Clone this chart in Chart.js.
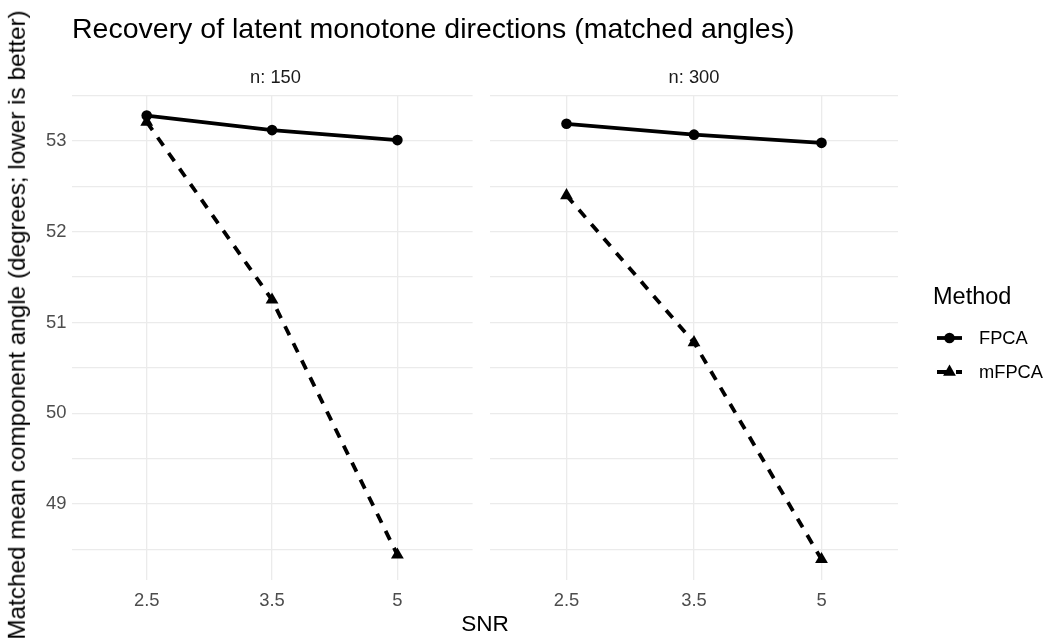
<!DOCTYPE html>
<html>
<head>
<meta charset="utf-8">
<script src="https://cdn.jsdelivr.net/npm/chart.js@4"></script>
<style>
  body { margin: 0; background: #fff; }
  .wrap { position: relative; width: 1046px; height: 641px; overflow: hidden; font-family: "Liberation Sans", Arial, sans-serif; }
  .wrap canvas { position: absolute; top: 0; }
  .lbl { position: absolute; white-space: nowrap; line-height: 1; }
  #title { left: 72px; top: 14px; font-size: 28.5px; color: #000; }
  .strip { top: 67.5px; font-size: 18.3px; color: #1a1a1a; transform: translateX(-50%); }
  #xtitle { left: 485px; top: 613px; font-size: 22.6px; color: #000; transform: translateX(-50%); }
  #ytitle { left: 17px; top: 325px; font-size: 24.3px; color: #000; transform: translate(-50%, -50%) rotate(-90deg); }
</style>
</head>
<body>
<div class="wrap">
  <canvas id="p150" width="480" height="641" style="left:0"></canvas>
  <canvas id="p300" width="566" height="641" style="left:480px"></canvas>
  <div class="lbl" id="title">Recovery of latent monotone directions (matched angles)</div>
  <div class="lbl strip" style="left:275.5px">n: 150</div>
  <div class="lbl strip" style="left:694px">n: 300</div>
  <div class="lbl" id="xtitle">SNR</div>
  <div class="lbl" id="ytitle">Matched mean component angle (degrees; lower is better)</div>
</div>
<script>
'use strict';

// SNR levels are plotted as discrete, equally spaced positions 1..3
var snrLevels = ['2.5', '3.5', '5'];
var methods = ['FPCA', 'mFPCA'];

var fpcaN150  = [53.28, 53.12, 53.01];
var mfpcaN150 = [53.21, 51.25, 48.44];
var fpcaN300  = [53.19, 53.07, 52.98];
var mfpcaN300 = [52.40, 50.78, 48.39];

// major + minor grid values on the angle axis
var angleGrid = [48.5, 49, 49.5, 50, 50.5, 51, 51.5, 52, 52.5, 53, 53.5];

var FONT = '"Liberation Sans", Arial, sans-serif';
var GRID = '#ebebeb';
var TICK_SIZE = 18.4;

Chart.defaults.font.family = FONT;
Chart.defaults.animation = false;

function points(values) {
	return values.map(function(v, i) { return { x: i + 1, y: v }; });
}

function datasets(fpca, mfpca) {
	return [{
		label: methods[0],
		data: points(fpca),
		borderColor: '#000',
		backgroundColor: '#000',
		borderWidth: 3.8,
		borderCapStyle: 'butt',
		pointStyle: 'circle',
		pointRadius: 5.3,
		pointBorderWidth: 0,
		tension: 0
	}, {
		label: methods[1],
		data: points(mfpca),
		borderColor: '#000',
		backgroundColor: '#000',
		borderWidth: 3.8,
		borderDash: [10, 9],
		borderCapStyle: 'butt',
		pointStyle: 'triangle',
		pointRadius: 7.4,
		pointBorderWidth: 0,
		tension: 0
	}];
}

// ggplot-style legend with line + point keys, drawn right of the second panel
var methodLegend = {
	id: 'methodLegend',
	afterDraw: function(chart) {
		var ctx = chart.ctx;
		var x0 = chart.chartArea.right + 35;
		ctx.save();
		ctx.fillStyle = '#000';
		ctx.textBaseline = 'middle';
		ctx.font = '23.5px ' + FONT;
		ctx.fillText('Method', x0, 298);
		ctx.font = '18.3px ' + FONT;
		chart.data.datasets.forEach(function(ds, i) {
			var y = 338 + i * 34;
			ctx.strokeStyle = ds.borderColor;
			ctx.lineWidth = ds.borderWidth;
			ctx.lineCap = 'butt';
			ctx.setLineDash(ds.borderDash || []);
			ctx.beginPath();
			ctx.moveTo(x0 + 4, y);
			ctx.lineTo(x0 + 29, y);
			ctx.stroke();
			ctx.setLineDash([]);
			ctx.fillStyle = ds.backgroundColor;
			Chart.helpers.drawPoint(ctx, {
				pointStyle: ds.pointStyle,
				radius: ds.pointRadius,
				rotation: 0,
				borderWidth: 0
			}, x0 + 16.5, y);
			ctx.fillStyle = '#000';
			ctx.fillText(ds.label, x0 + 46, y + 1);
		});
		ctx.restore();
	}
};

function panel(id, fpca, mfpca, opts) {
	return new Chart(document.getElementById(id), {
		type: 'line',
		data: { datasets: datasets(fpca, mfpca) },
		plugins: opts.plugins || [],
		options: {
			responsive: false,
			devicePixelRatio: 1,
			layout: { padding: opts.padding },
			plugins: { legend: { display: false }, tooltip: { enabled: false } },
			scales: {
				x: {
					type: 'linear',
					min: 0.4,
					max: 3.6,
					afterBuildTicks: function(s) {
						s.ticks = snrLevels.map(function(l, i) { return { value: i + 1 }; });
					},
					afterFit: function(s) { s.height = 40; },
					grid: { color: GRID, lineWidth: 1.3, drawTicks: false },
					border: { display: false },
					ticks: {
						color: '#4d4d4d',
						font: { size: TICK_SIZE },
						padding: 10,
						maxRotation: 0,
						callback: function(v) { return snrLevels[v - 1]; }
					}
				},
				y: {
					min: 48.163,
					max: 53.507,
					afterBuildTicks: function(s) {
						s.ticks = angleGrid.map(function(v) { return { value: v }; });
					},
					afterFit: function(s) { s.width = opts.yWidth; },
					grid: { color: GRID, lineWidth: 1.3, drawTicks: false },
					border: { display: false },
					ticks: {
						display: opts.yLabels,
						color: '#4d4d4d',
						font: { size: TICK_SIZE },
						padding: 5,
						callback: function(v) { return Number.isInteger(v) ? String(v) : ''; }
					}
				}
			}
		}
	});
}

panel('p150', fpcaN150, mfpcaN150, {
	yWidth: 30,
	yLabels: true,
	padding: { left: 41.5, right: 0.5, top: 95, bottom: 21 }
});

panel('p300', fpcaN300, mfpcaN300, {
	yWidth: 0,
	yLabels: false,
	padding: { left: 10, right: 148, top: 95, bottom: 21 },
	plugins: [methodLegend]
});
</script>
</body>
</html>
